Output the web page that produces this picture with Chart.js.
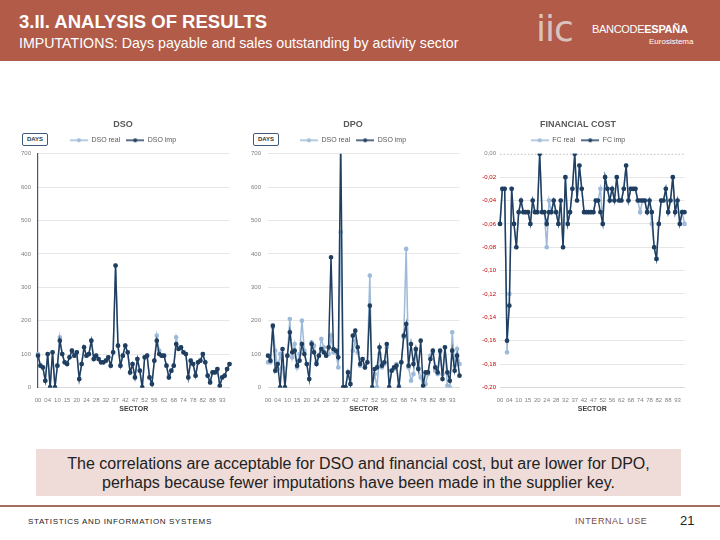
<!DOCTYPE html>
<html><head><meta charset="utf-8">
<script src="https://cdn.jsdelivr.net/npm/chart.js@4"></script>
<style>
body{margin:0;width:720px;height:540px;position:relative;background:#fff;font-family:"Liberation Sans",Arial,sans-serif;overflow:hidden}
#hdr{position:absolute;left:0;top:0;width:720px;height:61px;background:#b15b48}
#t1{position:absolute;left:19px;top:11px;color:#fff;font-size:18.5px;font-weight:bold}
#t2{position:absolute;left:19px;top:35px;color:#fff;font-size:14.2px}
#iic{position:absolute;left:536px;top:8px;color:#d8c3be;font-size:36px;letter-spacing:-1px;font-family:"DejaVu Sans",sans-serif}
#be{position:absolute;left:592px;top:23px;color:#fff;font-size:11px;letter-spacing:-0.3px}
#be b{font-weight:bold}
#eu{position:absolute;left:649px;top:37px;color:#fff;font-size:8px}
canvas.ch{position:absolute}
.days{position:absolute;width:24px;height:11px;border:1.5px solid #3d5a78;border-radius:2px;font-size:6px;font-weight:bold;color:#333;text-align:center;line-height:11px;background:#fff}
#cap{position:absolute;left:36px;top:449px;width:645px;height:47px;background:#efdcd8;color:#222;font-size:16px;text-align:center;line-height:19px;padding-top:5px;box-sizing:border-box}
#line{position:absolute;left:0;top:505px;width:720px;height:2px;background:#a36f62}
#f1{position:absolute;left:28px;top:517px;font-size:8px;color:#222;letter-spacing:0.65px}
#f2{position:absolute;left:575px;top:516px;font-size:9px;color:#7a4b40;letter-spacing:0.6px}
#f3{position:absolute;left:680px;top:513px;font-size:13px;color:#222}
</style></head><body>
<div id="hdr"></div>
<div id="t1">3.II. ANALYSIS OF RESULTS</div>
<div id="t2">IMPUTATIONS: Days payable and sales outstanding by activity sector</div>
<div id="iic">iic</div>
<div id="be">BANCODE<b>ESPAÑA</b></div>
<div id="eu">Eurosistema</div>
<canvas class="ch" id="c1" width="220" height="300" style="left:15px;top:115px"></canvas>
<canvas class="ch" id="c2" width="220" height="300" style="left:245px;top:115px"></canvas>
<canvas class="ch" id="c3" width="220" height="300" style="left:470px;top:115px"></canvas>
<div class="days" style="left:22px;top:133px">DAYS</div>
<div class="days" style="left:253px;top:133px">DAYS</div>
<div id="cap">The correlations are acceptable for DSO and financial cost, but are lower for DPO,<br>perhaps because fewer imputations have been made in the supplier key.</div>
<div id="line"></div>
<div id="f1">STATISTICS AND INFORMATION SYSTEMS</div>
<div id="f2">INTERNAL USE</div>
<div id="f3">21</div>
<script>
const sectors = ["00","01","02","03","04","05","06","08","10","11","12","13","15","16","17","18","20","21","22","23","24","25","26","27","28","29","30","31","32","33","35","36","37","38","39","41","42","43","45","46","47","49","50","51","52","53","54","55","56","58","59","60","62","63","64","65","68","69","70","71","74","75","76","77","78","79","80","81","82","84","85","86","88","90","91","92","93","94","95","96"];

const dsoImp = [95,65,60,20,100,0,105,0,65,140,100,75,70,90,110,95,105,25,70,120,95,100,140,85,95,85,75,75,80,90,65,105,365,125,65,95,125,105,45,70,30,85,50,0,90,95,30,10,80,140,100,95,95,65,30,50,65,130,115,120,105,100,30,80,70,35,75,80,100,75,35,15,45,45,55,5,30,35,55,70];
const dsoReal = [100,65,60,20,100,0,105,0,65,150,100,75,70,90,110,95,105,25,70,120,95,100,140,85,95,85,75,75,80,90,65,105,365,125,65,95,125,105,45,70,30,85,50,0,90,95,30,10,80,155,110,95,95,65,30,50,65,150,115,120,105,100,30,80,70,35,75,80,100,75,35,15,45,45,55,5,30,35,55,70];

const dpoImp = [95,80,185,50,70,0,115,0,95,165,105,110,65,80,130,100,70,25,130,105,70,95,115,105,95,120,390,115,110,90,750,0,0,45,10,155,170,120,70,85,60,75,245,0,55,60,120,65,75,130,0,50,60,65,0,75,155,190,65,130,70,115,55,140,5,45,45,85,110,60,45,110,25,120,45,20,110,50,95,35];
const dpoReal = [75,75,180,110,55,100,60,0,95,205,90,130,60,100,200,110,70,25,135,125,75,95,145,120,95,100,155,105,105,60,465,0,0,45,10,110,140,105,65,85,60,75,335,0,40,0,100,60,70,120,0,50,55,70,5,75,150,415,60,20,40,110,60,30,0,10,40,95,105,50,40,105,40,120,5,0,165,65,115,70];

const fcImp = [-0.06,-0.03,-0.03,-0.16,-0.13,-0.03,-0.06,-0.08,-0.05,-0.04,-0.05,-0.05,-0.05,-0.06,-0.04,-0.05,-0.05,0.00,-0.05,-0.05,-0.06,-0.05,-0.05,-0.04,-0.05,-0.06,-0.04,-0.08,-0.02,-0.06,-0.05,-0.03,0.00,-0.04,-0.01,-0.03,-0.05,-0.05,-0.05,-0.05,-0.05,-0.04,-0.04,-0.05,-0.06,-0.02,-0.03,-0.04,-0.03,-0.04,-0.02,-0.04,-0.04,-0.03,-0.01,-0.04,-0.03,-0.03,-0.03,-0.04,-0.04,-0.04,-0.04,-0.05,-0.04,-0.05,-0.08,-0.09,-0.06,-0.04,-0.04,-0.03,-0.05,-0.04,-0.02,-0.05,-0.04,-0.06,-0.05,-0.05];
const fcReal = [-0.06,-0.03,-0.03,-0.17,-0.12,-0.03,-0.06,-0.08,-0.05,-0.04,-0.05,-0.05,-0.05,-0.06,-0.04,-0.05,-0.05,0.00,-0.05,-0.05,-0.08,-0.04,-0.05,-0.04,-0.05,-0.06,-0.04,-0.08,-0.02,-0.06,-0.05,-0.03,0.00,-0.04,-0.01,-0.03,-0.05,-0.05,-0.05,-0.05,-0.05,-0.04,-0.04,-0.03,-0.06,-0.02,-0.03,-0.04,-0.03,-0.04,-0.02,-0.04,-0.04,-0.03,-0.01,-0.04,-0.03,-0.03,-0.03,-0.04,-0.05,-0.04,-0.04,-0.05,-0.04,-0.06,-0.08,-0.09,-0.06,-0.04,-0.04,-0.03,-0.05,-0.04,-0.02,-0.05,-0.04,-0.06,-0.05,-0.06];

const DARK = '#203f60', LIGHT = '#9dbad9';
function icon(color){
  const c=document.createElement('canvas');c.width=18;c.height=6;
  const g=c.getContext('2d');g.strokeStyle=color;g.lineWidth=1.5;
  g.beginPath();g.moveTo(0,3);g.lineTo(18,3);g.stroke();
  g.fillStyle=color;g.beginPath();g.arc(9,3,2,0,Math.PI*2);g.fill();return c;
}
const icons=[icon(LIGHT),icon(DARK)];

// dotted zero line for the financial-cost chart, positioned by the y scale
const zeroDots = {
  id:'zeroDots',
  beforeDatasetsDraw(chart, args, opts){
    if(!opts.on) return;
    const y = chart.scales.y.getPixelForValue(0), a = chart.chartArea, g = chart.ctx;
    g.save(); g.strokeStyle='#bfbfbf'; g.lineWidth=1; g.setLineDash([1.5,2]);
    g.beginPath(); g.moveTo(a.left, y+0.5); g.lineTo(a.right, y+0.5); g.stroke(); g.restore();
  }
};

function makeChart(id, title, names, real, imp, ymin, ymax, ystep, isFC, yBorder, yWidth){
  new Chart(document.getElementById(id), {
    type:'line',
    plugins:[zeroDots],
    data:{labels:sectors, datasets:[
      {label:names[0], data:real, borderColor:LIGHT, backgroundColor:LIGHT, pointBackgroundColor:LIGHT, pointBorderColor:LIGHT, pointRadius:1.6, borderWidth:1.5, order:1, tension:0},
      {label:names[1], data:imp, borderColor:DARK, backgroundColor:DARK, pointBackgroundColor:DARK, pointBorderColor:DARK, pointRadius:1.6, borderWidth:1.5, order:0, tension:0}
    ]},
    options:{
      responsive:false, animation:false, events:[],
      layout:{padding:{left:0,right:4,top:0,bottom:2}},
      plugins:{
        zeroDots:{on:isFC},
        title:{display:true,text:title,color:'#595959',font:{size:9,weight:'bold',family:'Liberation Sans'},padding:{top:4,bottom:1}},
        legend:{display:true,labels:{usePointStyle:true,pointStyleWidth:18,boxHeight:6,padding:6,color:'#595959',font:{size:7,family:'Liberation Sans'},
          generateLabels:(ch)=>ch.data.datasets.map((d,i)=>({text:d.label,pointStyle:icons[i],datasetIndex:i,fontColor:'#595959',lineWidth:0,strokeStyle:'rgba(0,0,0,0)',fillStyle:'rgba(0,0,0,0)',hidden:false}))}},
        tooltip:{enabled:false}
      },
      scales:{
        x:{offset:false,grid:{display:false},border:{display:true,color:'#d9d9d9'},
          ticks:{autoSkip:false,maxRotation:0,minRotation:0,padding:1,color:'#7f7f7f',font:{size:6,family:'Liberation Sans'},callback:(v,i)=>i%4===0?sectors[i]:''},
          title:{display:true,text:'SECTOR',color:'#404040',font:{size:7,weight:'bold',family:'Liberation Sans'},padding:{top:0,bottom:0}}},
        y:{min:ymin,max:ymax,
          grid:{drawTicks:false,color:(c)=>(isFC&&c.tick&&Math.abs(c.tick.value)<1e-9)?'rgba(0,0,0,0)':'#e6e6e6'},
          border:{display:yBorder,color:'#3d5a78',width:1.2},
          afterFit:(s)=>{s.width=yWidth;},
          ticks:{stepSize:ystep,padding:isFC?4:7,font:{size:6,family:'Liberation Sans'},color:(c)=>(isFC&&c.tick&&c.tick.value< -1e-9)?'#c00000':'#7f7f7f',
            callback:(v)=>isFC?v.toFixed(2).replace('.',','):v}}
      }
    }
  });
}
makeChart('c1','DSO',['DSO real','DSO imp'],dsoReal,dsoImp,0,700,100,false,true,23);
makeChart('c2','DPO',['DSO real','DSO imp'],dpoReal,dpoImp,0,700,100,false,false,23);
makeChart('c3','FINANCIAL COST',['FC real','FC imp'],fcReal,fcImp,-0.2,0,0.02,true,false,30);
</script>
</body></html>
